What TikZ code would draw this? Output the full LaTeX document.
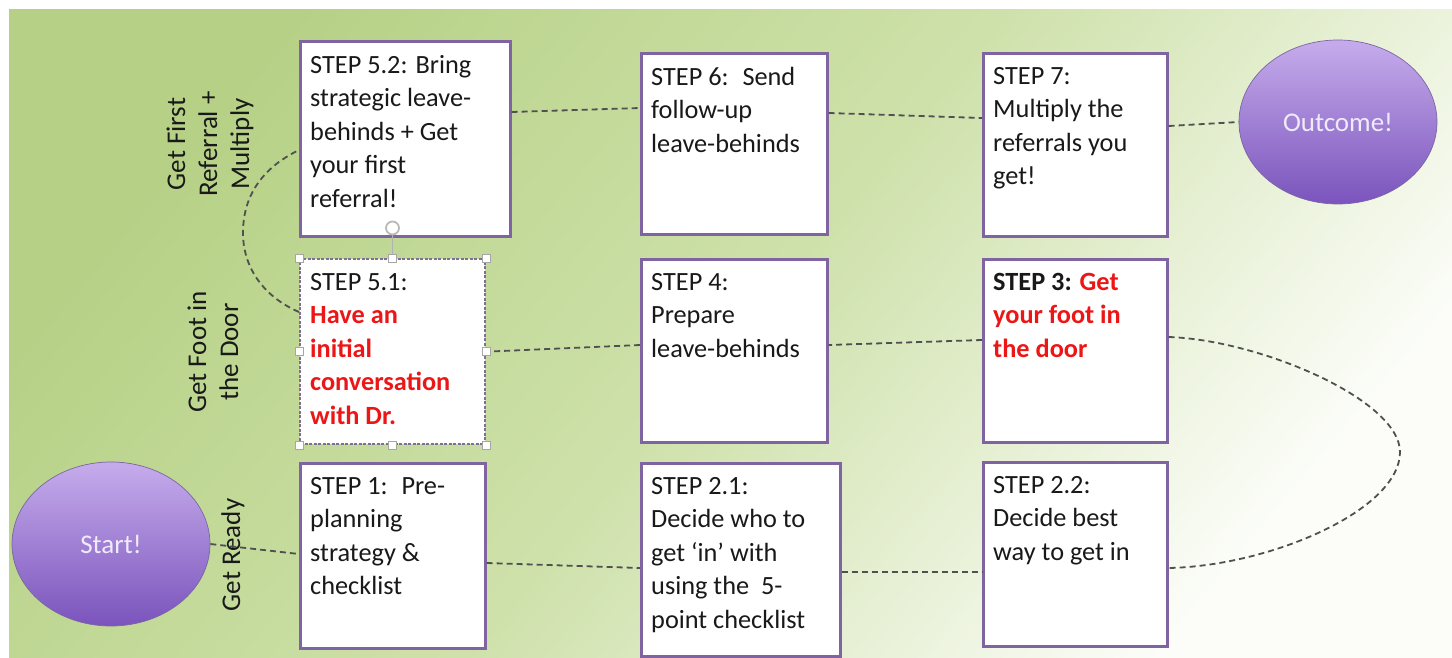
\documentclass[tikz,border=0pt]{standalone}
\usepackage{fontspec}
\setmainfont{Carlito}
\usetikzlibrary{shapes.geometric,calc,arrows.meta}
\definecolor{bgA}{RGB}{182,209,134}
\definecolor{bgM}{RGB}{206,225,170}
\definecolor{bgB}{RGB}{252,253,249}
\definecolor{boxline}{RGB}{128,100,162}
\definecolor{lineg}{RGB}{80,80,80}
\definecolor{redt}{RGB}{236,22,22}
\definecolor{ovtop}{RGB}{198,172,236}
\definecolor{ovbot}{RGB}{122,84,188}
\definecolor{ovtext}{RGB}{240,234,250}
\newcommand\redbf[1]{\textcolor{redt}{\textbf{#1}}}
\begin{document}
\begin{tikzpicture}[x=1pt,y=-1pt,
  stepbox/.style={draw=boxline, line width=2.6pt, fill=white, anchor=north west, inner sep=0pt},
  steptext/.style={anchor=north west, align=left, inner sep=0pt, font=\fontsize{26.3}{33.5}\selectfont, text=black!90},
  phase/.style={rotate=90, align=center, inner sep=0pt, font=\fontsize{27}{32}\selectfont, text=black!90},
  oval/.style={ellipse, draw=ovbot!60!gray, line width=0.7pt, top color=ovtop, bottom color=ovbot, minimum width=198pt, minimum height=164pt, font=\fontsize{27}{32}\selectfont, text=ovtext},
  conn/.style={draw=lineg, line width=1.8pt, dash pattern=on 6pt off 4pt},
  handle/.style={rectangle, draw=gray!70, fill=white, line width=0.8pt, minimum size=8pt, inner sep=0pt}
]
\useasboundingbox (0,0) rectangle (1452,658);
\shade[left color=bgA, right color=bgB, middle color=bgM, shading angle=50] (9,10) rectangle (1452,658);

% ovals
\node[oval] (start) at (111,544) {Start!};
\node[oval] (out) at (1338,122) {Outcome!};

% phase labels
\node[phase] (p3) at (210,144) {Get First\\Referral +\\Multiply};
\node[phase] (p2) at (213,352) {Get Foot in\\the Door};
\node[phase] (p1) at (233,555) {Get Ready};

% boxes
\node[stepbox, minimum width=210pt, minimum height=195pt] (s52) at (299,40) {};
\node[stepbox, minimum width=186pt, minimum height=181pt] (s6) at (640,52) {};
\node[stepbox, minimum width=184pt, minimum height=183pt] (s7) at (982,52) {};
\node[stepbox, minimum width=185pt, minimum height=185pt, draw=boxline!65!gray, line width=2pt, dash pattern=on 3pt off 1.5pt] (s51) at (299,258) {};
\node[stepbox, minimum width=186pt, minimum height=183pt] (s4) at (640,258) {};
\node[stepbox, minimum width=184pt, minimum height=183pt] (s3) at (982,258) {};
\node[stepbox, minimum width=185pt, minimum height=185pt] (s1) at (299,462) {};
\node[stepbox, minimum width=199pt, minimum height=193pt] (s21) at (640,462) {};
\node[stepbox, minimum width=184pt, minimum height=184pt] (s22) at (982,461) {};

% texts
\node[steptext] (t52) at ($(s52.north west)+(11,15)$) {STEP 5.2: Bring\\strategic leave-\\behinds + Get\\your first\\referral!};
\node[steptext] (t6) at ($(s6.north west)+(11,15)$) {STEP 6: \ Send\\follow-up\\leave-behinds};
\node[steptext] (t7) at ($(s7.north west)+(11,15)$) {STEP 7:\\Multiply the\\referrals you\\get!};
\node[steptext] (t51) at ($(s51.north west)+(11,15)$) {STEP 5.1:\\\redbf{Have an}\\\redbf{initial}\\\redbf{conversation}\\\redbf{with Dr.}};
\node[steptext] (t4) at ($(s4.north west)+(11,15)$) {STEP 4:\\Prepare\\leave-behinds};
\node[steptext] (t3) at ($(s3.north west)+(11,15)$) {\textbf{STEP 3: }\redbf{Get}\\\redbf{your foot in}\\\redbf{the door}};
\node[steptext] (t1) at ($(s1.north west)+(11,15)$) {STEP 1: \ Pre-\\planning\\strategy \&\\checklist};
\node[steptext] (t21) at ($(s21.north west)+(11,15)$) {STEP 2.1:\\Decide who to\\get ‘in’ with\\using the \ 5-\\point checklist};
\node[steptext] (t22) at ($(s22.north west)+(11,15)$) {STEP 2.2:\\Decide best\\way to get in};

% selection handles on STEP 5.1
\node[handle] (h1) at (s51.north west) {};
\node[handle] (h2) at (s51.north) {};
\node[handle] (h3) at (s51.north east) {};
\node[handle] (h4) at (s51.east) {};
\node[handle] (h5) at (s51.south east) {};
\node[handle] (h6) at (s51.south) {};
\node[handle] (h7) at (s51.south west) {};
\node[handle] (h8) at (s51.west) {};
\node[circle, draw=gray!55, line width=1.8pt, minimum size=13pt, inner sep=0pt] (rot) at ($(s51.north)+(0,-30)$) {};
\draw[gray!60, line width=0.8pt] (rot.south) -- (h2.north);

% connectors
\draw[conn] (start.east) -- ($(s1.north west)+(0,92)$);
\draw[conn] ($(s1.north east)+(0,101)$) -- ($(s21.north west)+(0,106)$);
\draw[conn] ($(s21.north east)+(0,110)$) -- ($(s22.north west)+(0,111)$);
\draw[conn] ($(s3.north east)+(0,79)$) .. controls (1260,340) and (1400,400) .. (1400,452)
   .. controls (1400,510) and (1270,566) .. ($(s22.north east)+(0,107)$);
\draw[conn] ($(s3.north west)+(0,82)$) -- ($(s4.north east)+(0,87)$);
\draw[conn] ($(s4.north west)+(0,87)$) -- (h4.east);
\draw[conn] ($(s51.north west)+(0,54)$) .. controls (262,296) and (243,266) .. (243,233)
   .. controls (243,200) and (258,170) .. ($(s52.north west)+(0,110)$);
\draw[conn] ($(s52.north east)+(0,72)$) -- ($(s6.north west)+(0,56)$);
\draw[conn] ($(s6.north east)+(0,61)$) -- ($(s7.north west)+(0,66)$);
\draw[conn] ($(s7.north east)+(0,74)$) -- (out.west);
\end{tikzpicture}
\end{document}
